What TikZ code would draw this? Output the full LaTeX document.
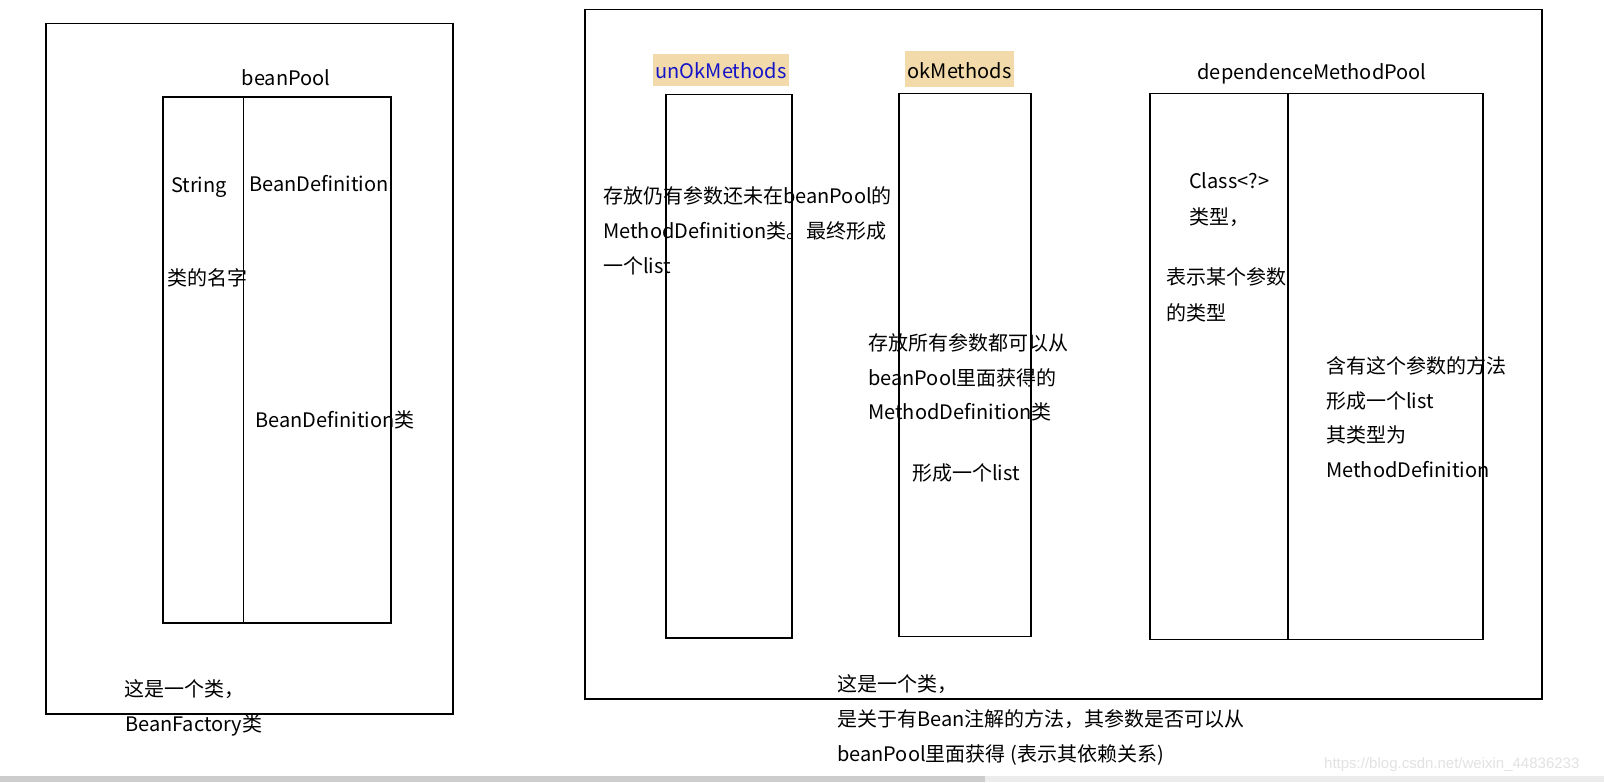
\documentclass[tikz,border=0pt]{standalone}
\usepackage{fontspec}
\newfontfamily\cjk{Noto Sans CJK SC}
\newfontfamily\wmfont{Liberation Sans}
\definecolor{hl}{RGB}{242,218,170}
\definecolor{tblue}{RGB}{20,20,200}
\definecolor{wm}{RGB}{226,226,226}
\definecolor{bardark}{RGB}{205,205,205}
\definecolor{barlight}{RGB}{236,236,236}
\tikzset{
  box/.style={draw=black, line width=1.1pt},
  txt/.style={anchor=west, inner sep=0pt, font=\cjk\fontsize{20}{24}\selectfont, text height=18pt, text depth=2pt},
  ttl/.style={inner sep=0pt, font=\cjk\fontsize{20}{24}\selectfont, text height=18pt, text depth=2pt},
  hlbox/.style={fill=hl, inner sep=0pt, font=\cjk\fontsize{20}{24}\selectfont, text height=19pt, text depth=1pt},
}
\begin{document}
\begin{tikzpicture}[x=1pt,y=-1pt]
\fill[white] (0,0) rectangle (1604,782);
\useasboundingbox (0,0) rectangle (1604,782);
% scrollbar
\fill[barlight] (0,776) rectangle (1604,782);
\fill[bardark] (0,776) rectangle (985,782);

% ---------- left: BeanFactory ----------
\draw[box] (46,23.5) rectangle (453,714);
\node[ttl] (beanPool) at (286,77) {beanPool};
\draw[box] (163,97) rectangle (391,623);
\draw[box] (243.5,97) -- (243.5,623);
\node[txt] (string) at (171,184) {String};
\node[txt] (bdef) at (249,183) {BeanDefinition};
\node[txt] (clsname) at (167,277) {类的名字};
\node[txt] (bdefcls) at (255,419) {BeanDefinition类};
\node[txt] (bf1) at (124,688) {这是一个类，};
\node[txt] (bf2) at (125,723) {BeanFactory类};

% ---------- right outer ----------
\draw[box] (585,9.5) rectangle (1542,699);

% unOkMethods
\node[hlbox, minimum width=136pt, minimum height=32pt, text=tblue] (unok) at (721,69.5) {unOkMethods};
\draw[box] (666,94.5) rectangle (792,638);
\node[txt] (u1) at (603,195) {存放仍有参数还未在beanPool的};
\node[txt] (u2) at (603,230) {MethodDefinition类。最终形成};
\node[txt] (u3) at (603,265) {一个list};

% okMethods
\node[hlbox, minimum width=109pt, minimum height=36pt] (ok) at (959.5,69.3) {okMethods};
\draw[box] (899,93.5) rectangle (1031,636.5);
\node[txt] (o1) at (868,342.5) {存放所有参数都可以从};
\node[txt] (o2) at (868,377) {beanPool里面获得的};
\node[txt] (o3) at (868,411.5) {MethodDefinition类};
\node[txt] (o4) at (912,472.5) {形成一个list};

% dependenceMethodPool
\node[ttl] (dmp) at (1312,71.5) {dependenceMethodPool};
\draw[box] (1150,93.5) rectangle (1483,639.5);
\draw[box] (1288,93.5) -- (1288,639.5);
\node[txt] (d1) at (1189,180) {Class<?>};
\node[txt] (d2) at (1189,216) {类型，};
\node[txt] (d3) at (1166,276.5) {表示某个参数};
\node[txt] (d4) at (1166,312.5) {的类型};
\node[txt] (d5) at (1326,365) {含有这个参数的方法};
\node[txt] (d6) at (1326,400) {形成一个list};
\node[txt] (d7) at (1326,434) {其类型为};
\node[txt] (d8) at (1326,469) {MethodDefinition};

% bottom text
\node[txt] (b1) at (837,683.5) {这是一个类，};
\node[txt] (b2) at (837,718.5) {是关于有Bean注解的方法，其参数是否可以从};
\node[txt] (b3) at (837,753.5) {beanPool里面获得 (表示其依赖关系)};

% watermark
\node[anchor=west, inner sep=0pt, text=wm, font=\wmfont\fontsize{15}{18}\selectfont] (wmark) at (1324,765) {https://blog.csdn.net/weixin\_44836233};
\end{tikzpicture}
\end{document}
